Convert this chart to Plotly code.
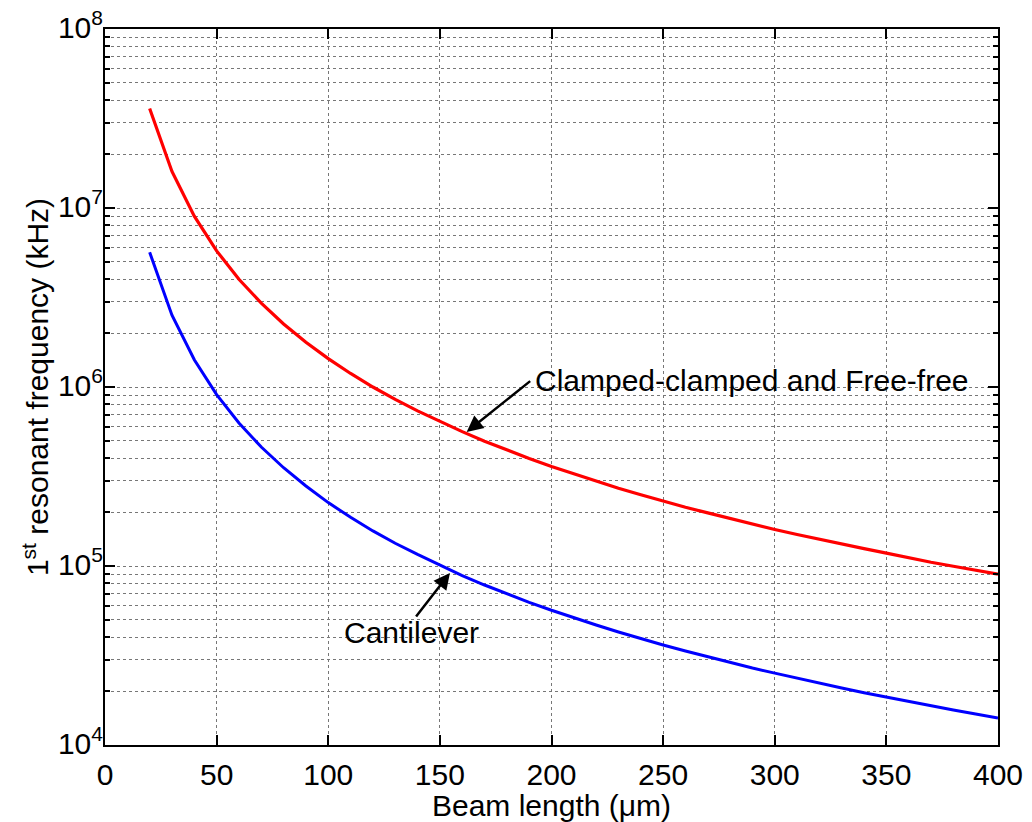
import plotly.graph_objects as go

beam_length = [20, 30, 40, 50, 60, 70, 80, 90, 100, 110, 120, 130, 140, 150, 160, 170, 180, 190,
               200, 210, 220, 230, 240, 250, 260, 270, 280, 290, 300, 310, 320, 330, 340, 350,
               360, 370, 380, 390, 400]

clamped_freq = [3.6e7, 1.6e7, 9.0e6, 5.76e6, 4.0e6, 2.94e6, 2.25e6, 1.78e6, 1.44e6, 1.19e6,
                1.0e6, 8.52e5, 7.35e5, 6.4e5, 5.63e5, 4.98e5, 4.44e5, 3.99e5, 3.6e5, 3.27e5,
                2.98e5, 2.72e5, 2.5e5, 2.3e5, 2.13e5, 1.98e5, 1.84e5, 1.71e5, 1.6e5, 1.5e5,
                1.41e5, 1.32e5, 1.25e5, 1.18e5, 1.11e5, 1.05e5, 9.97e4, 9.47e4, 9.0e4]

cantilever_freq = [5.66e6, 2.52e6, 1.42e6, 9.06e5, 6.29e5, 4.62e5, 3.54e5, 2.80e5, 2.26e5,
                   1.87e5, 1.57e5, 1.34e5, 1.16e5, 1.01e5, 8.84e4, 7.83e4, 6.99e4, 6.27e4,
                   5.66e4, 5.13e4, 4.68e4, 4.28e4, 3.93e4, 3.62e4, 3.35e4, 3.11e4, 2.89e4,
                   2.69e4, 2.52e4, 2.36e4, 2.21e4, 2.08e4, 1.96e4, 1.85e4, 1.75e4, 1.65e4,
                   1.57e4, 1.49e4, 1.415e4]

x_ticks = [0, 50, 100, 150, 200, 250, 300, 350, 400]
y_major = [1e4, 1e5, 1e6, 1e7, 1e8]
y_major_text = ["10<sup>4</sup>", "10<sup>5</sup>", "10<sup>6</sup>", "10<sup>7</sup>", "10<sup>8</sup>"]
y_minor = [m * 10 ** e for e in range(4, 8) for m in range(2, 10)]

FONT = "Arial, Liberation Sans, Helvetica, sans-serif"
FS = 30

fig = go.Figure()
fig.add_trace(go.Scatter(x=beam_length, y=clamped_freq, mode="lines",
                         line=dict(color="#ff0000", width=3.2), showlegend=False))
fig.add_trace(go.Scatter(x=beam_length, y=cantilever_freq, mode="lines",
                         line=dict(color="#0000ff", width=3), showlegend=False))

# arrows (arrow only, no text)
fig.add_annotation(x=162, y=5.749, xref="x", yref="y", ax=65, ay=-52, text="",
                   showarrow=True, arrowhead=2, arrowsize=1.3, arrowwidth=2.5, arrowcolor="black")
fig.add_annotation(x=154.5, y=4.961, xref="x", yref="y", ax=-35, ay=45, text="",
                   showarrow=True, arrowhead=2, arrowsize=1.3, arrowwidth=2.5, arrowcolor="black")
# labels
fig.add_annotation(x=191.5, y=6.039, xref="x", yref="y", text="Clamped-clamped and Free-free",
                   showarrow=False, xanchor="left", yanchor="middle",
                   font=dict(family=FONT, size=FS, color="black"))
fig.add_annotation(x=106.0, y=4.626, xref="x", yref="y", text="Cantilever",
                   showarrow=False, xanchor="left", yanchor="middle",
                   font=dict(family=FONT, size=FS, color="black"))

fig.update_xaxes(range=[0, 400], tickvals=x_ticks, ticks="inside", ticklen=10, tickwidth=1.5,
                 tickcolor="black", showline=True, linecolor="black", linewidth=2, mirror="ticks",
                 showgrid=True, gridcolor="#777777", griddash="dot", gridwidth=1, zeroline=False,
                 automargin=False, ticklabelstandoff=2,
                 tickfont=dict(family=FONT, size=FS, color="black"),
                 title=dict(text="Beam length (μm)", font=dict(family=FONT, size=FS, color="black"),
                            standoff=0))
fig.update_yaxes(type="log", range=[4, 8], tickmode="array", tickvals=y_major, ticktext=y_major_text,
                 ticks="inside", ticklen=10, tickwidth=1.5, tickcolor="black",
                 showline=True, linecolor="black", linewidth=2, mirror="ticks",
                 showgrid=True, gridcolor="#777777", griddash="dot", gridwidth=1, zeroline=False,
                 automargin=False, ticklabelshift=-2, ticklabelstandoff=-6, ticklabeloverflow="allow",
                 minor=dict(tickmode="array", tickvals=y_minor, ticks="inside", ticklen=5,
                            tickcolor="black", tickwidth=1.5, showgrid=True, gridcolor="#777777",
                            griddash="dot", gridwidth=1),
                 tickfont=dict(family=FONT, size=FS, color="black"),
                 title=dict(text="1<sup>st</sup> resonant frequency (kHz)",
                            font=dict(family=FONT, size=FS, color="black"), standoff=0))

# page body has an 8px margin, so the figure is sized/offset to keep the plot area in place
fig.update_layout(width=1024, height=814, margin=dict(l=97, r=34, t=21, b=77),
                  paper_bgcolor="white", plot_bgcolor="white")

fig.write_html("out.html")
